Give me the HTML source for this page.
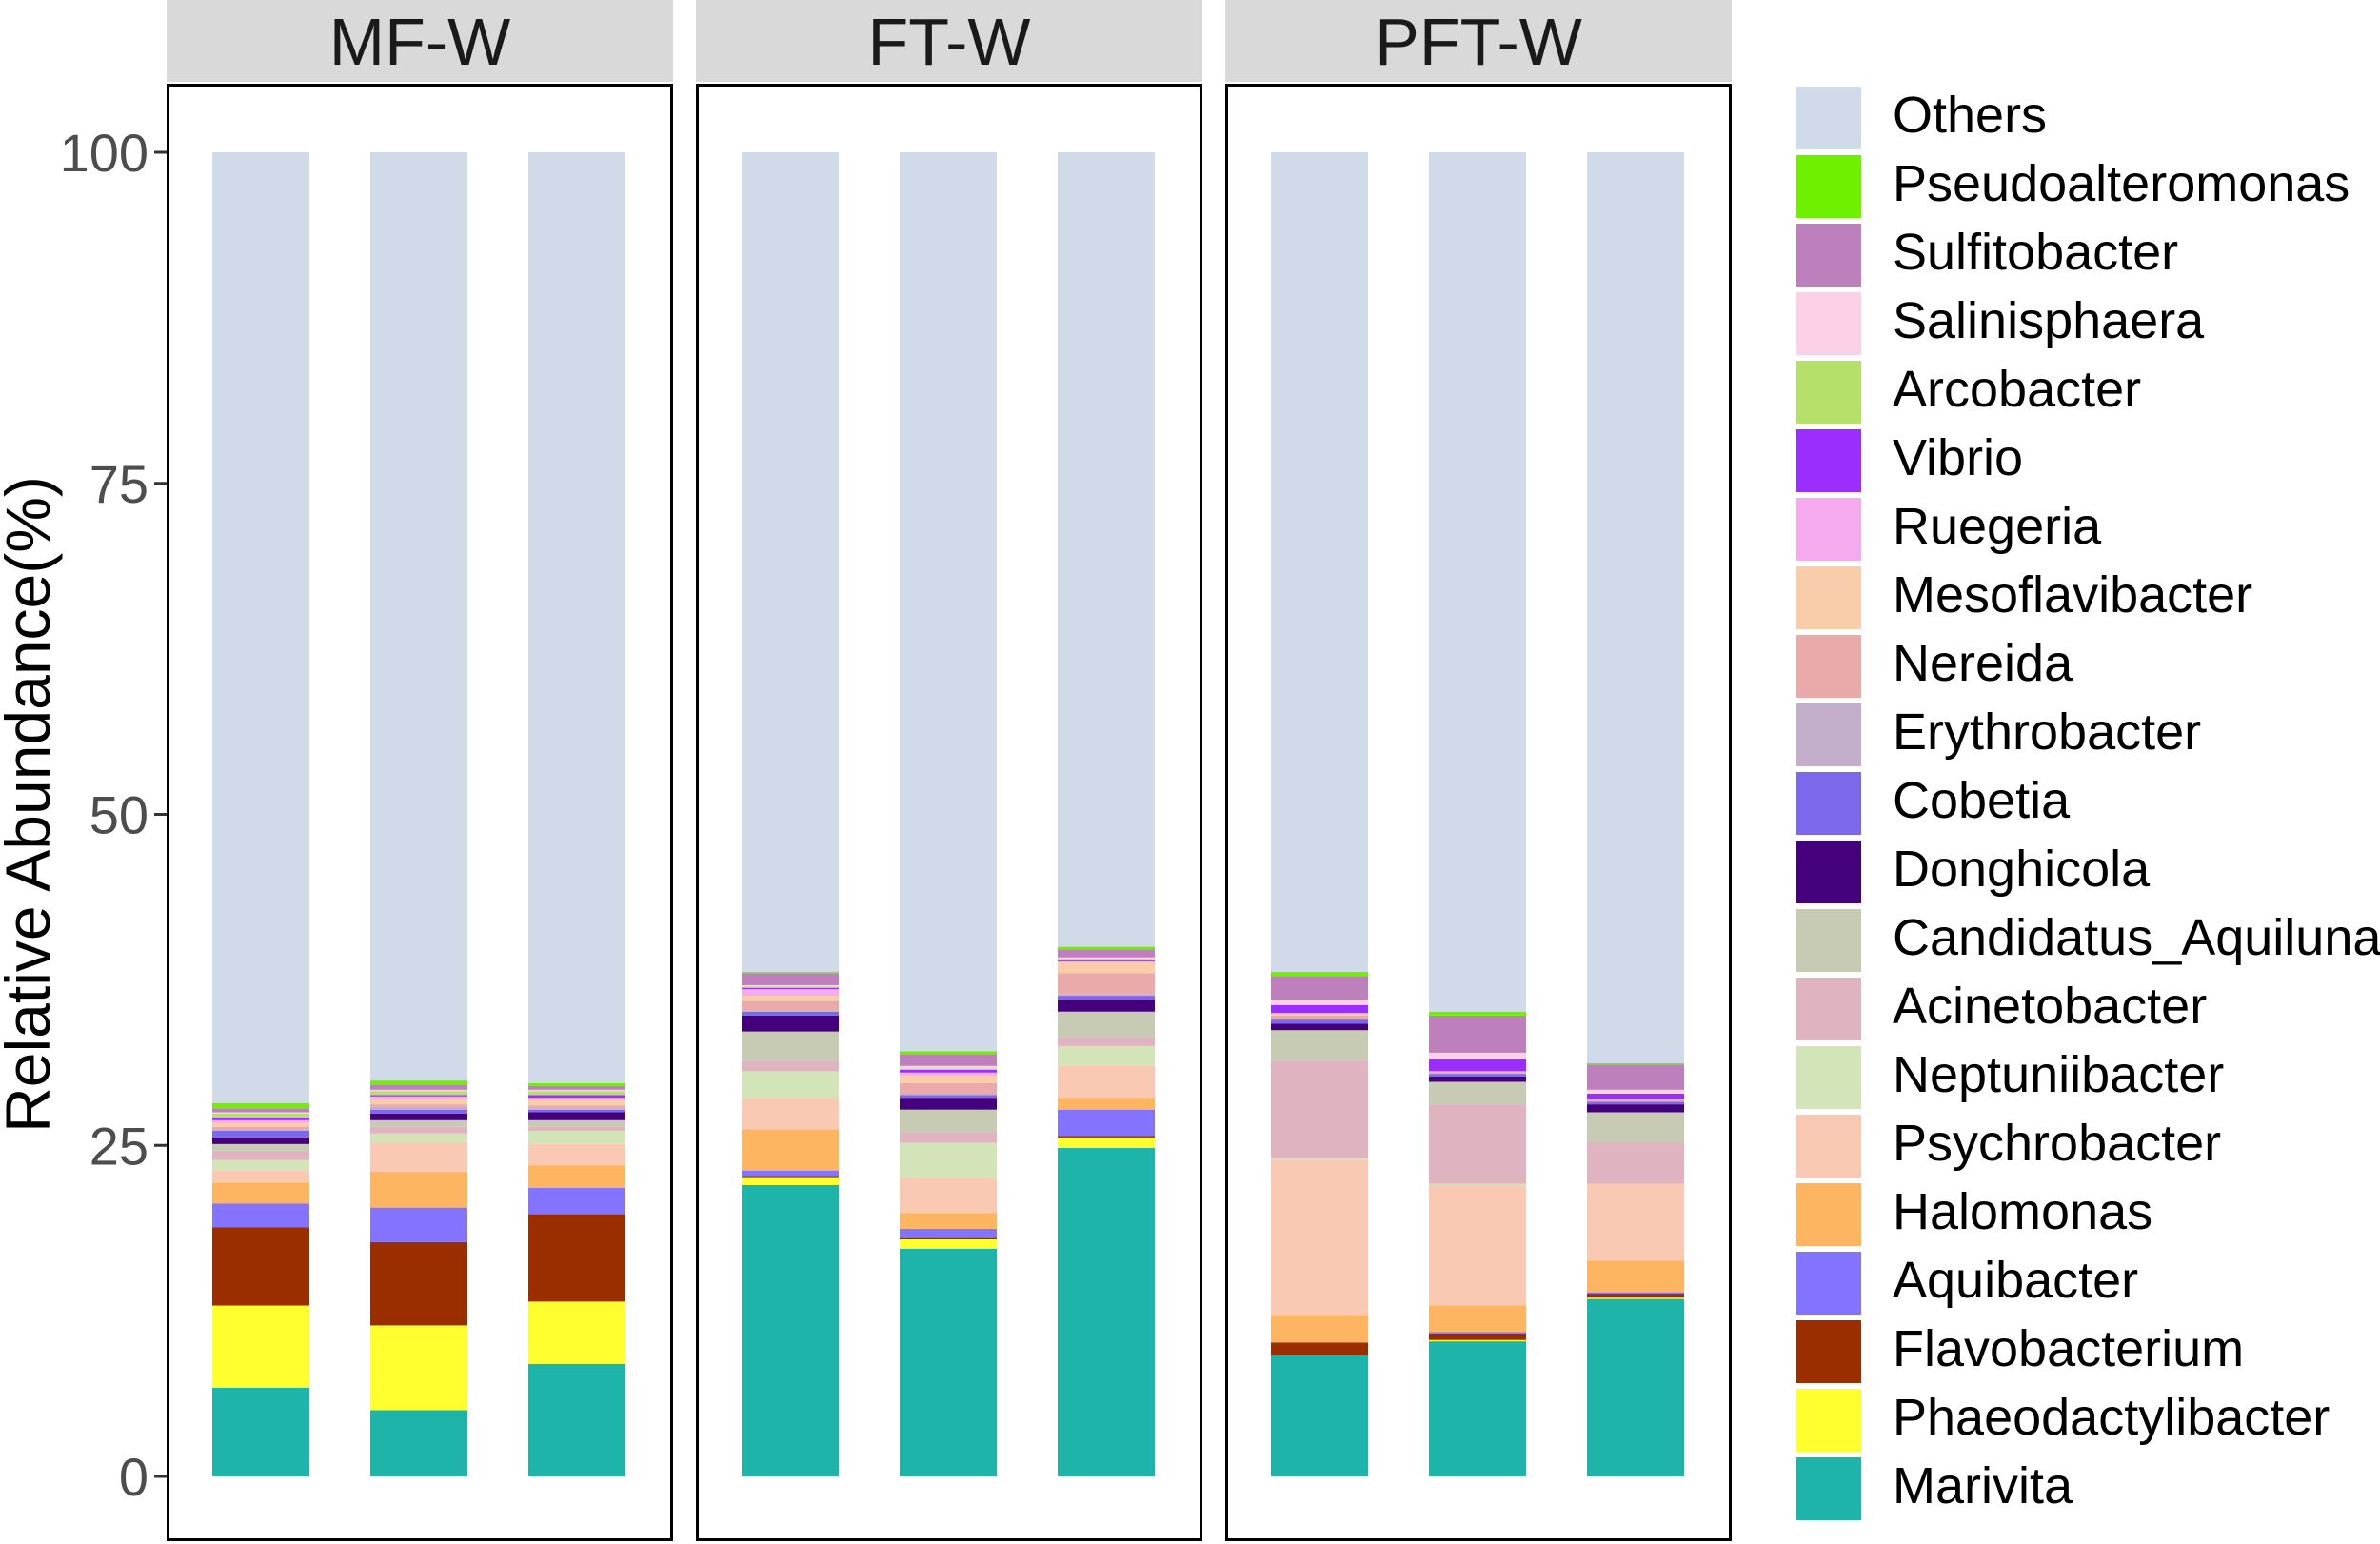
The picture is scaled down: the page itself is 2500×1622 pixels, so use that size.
<!DOCTYPE html>
<html><head><meta charset="utf-8">
<style>
html,body{margin:0;padding:0;background:#fff;}
svg{display:block;font-family:"Liberation Sans",Arial,sans-serif;}
</style></head>
<body>
<svg id="chart" width="2500" height="1622" viewBox="0 0 2500 1622" xmlns="http://www.w3.org/2000/svg">
  <g id="panels"></g>
  <g id="bars"></g>
  <g id="axis"></g>
  <text x="0" y="0" transform="translate(52,845) rotate(-90)" text-anchor="middle" font-size="66" fill="#000">Relative Abundance(%)</text>
  <g id="legend"></g>
</svg>
<script>
const panels = ["MF-W","FT-W","PFT-W"];
const ticks = [0,25,50,75,100];
const genera = ["Marivita","Phaeodactylibacter","Flavobacterium","Aquibacter","Halomonas","Psychrobacter","Neptuniibacter","Acinetobacter","Candidatus_Aquiluna","Donghicola","Cobetia","Erythrobacter","Nereida","Mesoflavibacter","Ruegeria","Vibrio","Arcobacter","Salinisphaera","Sulfitobacter","Pseudoalteromonas","Others"];
const colors = ["#1eb4aa","#ffff30","#9a2e00","#8473ff","#fdb561","#f9c9b4","#d4e4b9","#e0b3c0","#c8cbb4","#45007c","#7b68ea","#c3aecb","#eaaaaa","#f9ccaa","#f5aaf0","#9a2eff","#b5e06a","#fcd0e6","#bd80bd","#6ef000","#d0dae9"];
const marivita = [6.7,5.0,8.5,22.0,17.2,24.8,9.2,10.2,13.4];
const phaeodactylibacter = [6.2,6.4,4.7,0.6,0.7,0.8,0.0,0.1,0.1];
const flavobacterium = [5.9,6.3,6.6,0.1,0.1,0.1,0.9,0.5,0.3];
const aquibacter = [1.8,2.6,2.0,0.4,0.7,2.0,0.0,0.1,0.1];
const halomonas = [1.6,2.7,1.7,3.1,1.2,0.9,2.1,2.0,2.4];
const psychrobacter = [0.9,2.2,1.6,2.4,2.6,2.4,11.7,9.1,5.8];
const neptuniibacter = [0.8,0.7,1.0,2.0,2.7,1.5,0.1,0.1,0.0];
const acinetobacter = [0.7,0.5,0.3,0.8,0.8,0.7,7.4,6.0,3.1];
const candidatus = [0.5,0.5,0.5,2.2,1.7,1.9,2.3,1.7,2.3];
const donghicola = [0.5,0.5,0.6,1.2,0.9,0.9,0.5,0.4,0.6];
const cobetia = [0.5,0.3,0.2,0.3,0.2,0.3,0.3,0.2,0.2];
const erythrobacter = [0.1,0.2,0.1,0.1,0.1,0.1,0.0,0.0,0.0];
const nereida = [0.2,0.2,0.2,0.7,0.8,1.6,0.3,0.15,0.2];
const mesoflavibacter = [0.3,0.4,0.4,0.4,0.6,0.8,0.1,0.05,0.0];
const ruegeria = [0.2,0.2,0.2,0.5,0.2,0.1,0.1,0.0,0.0];
const vibrio = [0.2,0.1,0.2,0.1,0.2,0.1,0.6,0.9,0.4];
const arcobacter = [0.3,0.3,0.3,0.1,0.1,0.1,0.0,0.0,0.0];
const salinisphaera = [0.1,0.1,0.1,0.1,0.2,0.1,0.4,0.5,0.3];
const sulfitobacter = [0.3,0.4,0.3,0.9,0.9,0.6,1.8,2.8,1.9];
const pseudoalteromonas = [0.4,0.3,0.2,0.1,0.2,0.2,0.3,0.3,0.1];

const series = [marivita,phaeodactylibacter,flavobacterium,aquibacter,halomonas,psychrobacter,neptuniibacter,acinetobacter,candidatus,donghicola,cobetia,erythrobacter,nereida,mesoflavibacter,ruegeria,vibrio,arcobacter,salinisphaera,sulfitobacter,pseudoalteromonas];
const NS = "http://www.w3.org/2000/svg";
const Y0 = 1551, Y100 = 160;
function y(v){ return Y0 - (Y0 - Y100) * v / 100; }
const PANEL_X0 = 175, PANEL_STEP = 556, PANEL_W = 532, PANEL_TOP = 88, PANEL_BOT = 1619;
const BAR_OFF = 48, BAR_STEP = 166, BAR_W = 102;
function mk(tag, attrs, parent){ const e=document.createElementNS(NS,tag); for(const k in attrs) e.setAttribute(k,attrs[k]); parent.appendChild(e); return e; }

const gp = document.getElementById("panels");
panels.forEach((p,i)=>{
  const x = PANEL_X0 + i*PANEL_STEP;
  const strip = mk("rect",{x:x,y:0,width:PANEL_W,height:86,fill:"#d9d9d9"},gp);
  
  
  const t = mk("text",{x:x+PANEL_W/2,y:68,"text-anchor":"middle","font-size":70,fill:"#1a1a1a"},gp);
  t.textContent = p;
  
  
  const b = mk("rect",{x:x+1.5,y:PANEL_TOP+1.5,width:PANEL_W-3,height:PANEL_BOT-PANEL_TOP-3,fill:"none",stroke:"#000","stroke-width":3},gp);
  
  
});

const gb = document.getElementById("bars");
const nSamples = marivita.length;
for(let s=0;s<nSamples;s++){
  const pi = Math.floor(s/3), bi = s%3;
  const x = PANEL_X0 + pi*PANEL_STEP + BAR_OFF + bi*BAR_STEP;
  let cum = 0;
  for(let g=0; g<=series.length; g++){
    const v = g<series.length ? series[g][s] : Math.max(0,100-cum);
    if(v<=0){ continue; }
    const r = mk("rect",{x:x,y:y(cum+v),width:BAR_W,height:y(cum)-y(cum+v),fill:colors[g]},gb);
    
    
    cum += v;
  }
}

const ga = document.getElementById("axis");
ticks.forEach(t=>{
  const l = mk("line",{x1:162,x2:175,y1:y(t),y2:y(t),stroke:"#333","stroke-width":3},ga);
  
  
  const tx = mk("text",{x:156,y:y(t)+20,"text-anchor":"end","font-size":56,fill:"#4d4d4d"},ga);
  tx.textContent = String(t);
  
  
});

const gl = document.getElementById("legend");
for(let k=0;k<genera.length;k++){
  const g = genera.length-1-k;
  const ky = 91 + k*72;
  const r = mk("rect",{x:1887,y:ky,width:68,height:66,fill:colors[g]},gl);
  
  
  const t = mk("text",{x:1988,y:ky+48,"font-size":54,fill:"#000"},gl);
  t.textContent = genera[g];
  
  
}
</script>
</body></html>
